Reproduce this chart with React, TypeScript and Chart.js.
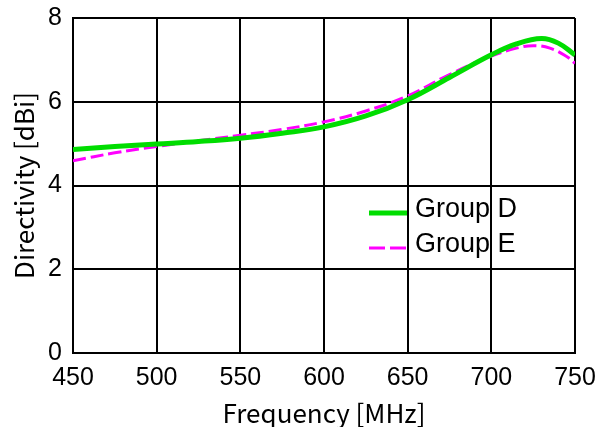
import React, { useEffect, useRef } from "react";
import { Chart, registerables } from "chart.js";

Chart.register(...registerables);

const freqD = [450, 475, 500, 525, 550, 575, 600, 625, 650, 675, 700, 715, 730, 740, 750];
const groupD = [4.86, 4.93, 4.99, 5.05, 5.13, 5.25, 5.4, 5.66, 6.05, 6.58, 7.12, 7.38, 7.51, 7.4, 7.12];
const freqE = [450, 475, 500, 525, 550, 575, 600, 625, 650, 675, 700, 715, 725, 735, 745, 750];
const groupE = [4.59, 4.78, 4.93, 5.07, 5.2, 5.34, 5.52, 5.78, 6.14, 6.65, 7.09, 7.28, 7.34, 7.28, 7.08, 6.92];
const seriesNames = ["Group D", "Group E"];
const xTitle = "Frequency [MHz]";
const yTitle = "Directivity [dBi]";

const GREEN = "#00dd00";
const MAGENTA = "#ff00ff";
const TICK_FONT = "'Liberation Sans', Arial, sans-serif";
const TITLE_FONT = "'Noto Sans CJK JP', sans-serif";

const legendPlugin = {
  id: "insideLegend",
  afterDatasetsDraw(chart: any) {
    const ctx = chart.ctx;
    ctx.save();
    const items = [
      { name: seriesNames[0], color: GREEN, width: 5, dash: [] as number[], y: 213 },
      { name: seriesNames[1], color: MAGENTA, width: 3, dash: [16, 5], y: 248 },
    ];
    for (const it of items) {
      ctx.beginPath();
      ctx.strokeStyle = it.color;
      ctx.lineWidth = it.width;
      ctx.setLineDash(it.dash);
      ctx.moveTo(369, it.y);
      ctx.lineTo(407, it.y);
      ctx.stroke();
      ctx.setLineDash([]);
      ctx.fillStyle = "#000";
      ctx.font = "27px " + TICK_FONT;
      ctx.textAlign = "left";
      ctx.textBaseline = "middle";
      ctx.fillText(it.name, 415, it.y - 3);
    }
    ctx.restore();
  },
};

export default function App() {
  const ref = useRef<HTMLCanvasElement | null>(null);
  useEffect(() => {
    document.body.style.margin = "0";
    const canvas = ref.current!;
    const chart = new Chart(canvas, {
      type: "line",
      data: {
        datasets: [
          {
            label: seriesNames[0],
            data: freqD.map((x, i) => ({ x, y: groupD[i] })),
            borderColor: GREEN,
            borderWidth: 5,
            pointRadius: 0,
            tension: 0.4,
            fill: false,
          },
          {
            label: seriesNames[1],
            data: freqE.map((x, i) => ({ x, y: groupE[i] })),
            borderColor: MAGENTA,
            borderWidth: 3,
            borderDash: [13, 5],
            pointRadius: 0,
            tension: 0.4,
            fill: false,
          },
        ],
      },
      options: {
        animation: false,
        responsive: false,
        layout: { padding: { top: 18, right: 24, left: 0, bottom: 0 } },
        plugins: { legend: { display: false }, tooltip: { enabled: false } },
        scales: {
          x: {
            type: "linear",
            min: 450,
            max: 750,
            ticks: {
              stepSize: 50,
              color: "#000",
              padding: 10,
              font: { family: TICK_FONT, size: 25 },
            },
            grid: { color: "#000", lineWidth: 2, drawTicks: false },
            border: { color: "#000", width: 2 },
            title: {
              display: true,
              text: xTitle,
              color: "#000",
              font: { family: TITLE_FONT, size: 26, lineHeight: 1 },
              padding: { top: 0, bottom: 1 },
            },
            afterFit(scale: any) {
              scale.height = 427 - 353;
              scale.paddingLeft = 0;
              scale.paddingRight = 0;
            },
          },
          y: {
            type: "linear",
            min: 0,
            max: 8,
            ticks: {
              stepSize: 2,
              color: "#000",
              padding: 11,
              font: { family: TICK_FONT, size: 25 },
            },
            grid: { color: "#000", lineWidth: 2, drawTicks: false },
            border: { color: "#000", width: 2 },
            title: {
              display: true,
              text: yTitle,
              color: "#000",
              font: { family: TITLE_FONT, size: 26, lineHeight: 1 },
              padding: { top: 11, bottom: 0 },
            },
            afterFit(scale: any) {
              scale.width = 73;
              scale.paddingTop = 0;
              scale.paddingBottom = 0;
            },
          },
        },
      },
      plugins: [legendPlugin],
    });
    return () => chart.destroy();
  }, []);
  return <canvas ref={ref} width={599} height={427} style={{ display: "block" }} />;
}
